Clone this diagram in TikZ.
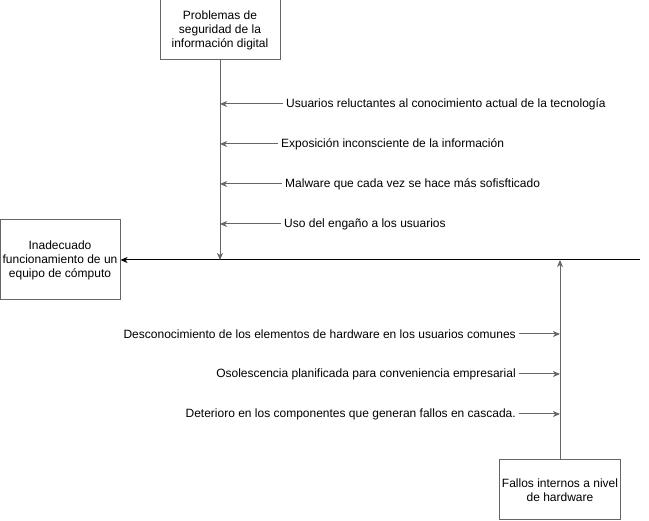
\documentclass[tikz,border=0pt]{standalone}
\usepackage{fontspec}
\setmainfont{Liberation Sans}
\usetikzlibrary{arrows.meta}
\definecolor{linegray}{HTML}{666666}
\tikzset{
	causebox/.style={rectangle, draw=linegray, line width=1pt, minimum width=120pt, align=center, inner sep=2pt, font=\fontsize{12}{14}\selectfont},
	causetext/.style={inner sep=3pt, font=\fontsize{12}{14}\selectfont},
	branch/.style={-{Stealth[length=7pt, width=6pt, inset=2pt]}, draw=linegray, line width=1pt}
}
\begin{document}
\begin{tikzpicture}[x=1pt, y=-1pt]
	\useasboundingbox (0,0) rectangle (649,521);

	\node (secbox) [causebox, minimum height=60pt] at (220, 30) {Problemas de\\seguridad de la\\información digital};
	\node (effect) [causebox, minimum height=80pt] at (60, 260) {Inadecuado\\funcionamiento de un\\equipo de cómputo};
	\node (hwbox) [causebox, minimum height=60pt] at (560, 490) {Fallos internos a nivel\\de hardware};

	\coordinate (spineend) at (640, 260);
	\coordinate (secjoin) at (220, 260);
	\coordinate (hwjoin) at (560, 260);

	\node (s1) [causetext, anchor=west] at (283, 104) {Usuarios reluctantes al conocimiento actual de la tecnología};
	\node (s2) [causetext, anchor=west] at (278, 144) {Exposición inconsciente de la información};
	\node (s3) [causetext, anchor=west] at (282, 184) {Malware que cada vez se hace más sofisfticado};
	\node (s4) [causetext, anchor=west] at (281, 224) {Uso del engaño a los usuarios};

	\node (h1) [causetext, anchor=east] at (519, 334) {Desconocimiento de los elementos de hardware en los usuarios comunes};
	\node (h2) [causetext, anchor=east] at (519, 374) {Osolescencia planificada para conveniencia empresarial};
	\node (h3) [causetext, anchor=east] at (519, 414) {Deterioro en los componentes que generan fallos en cascada.};

	\path
	(spineend) edge[-{Stealth[length=7pt, width=6pt, inset=2pt]}, line width=1pt] (effect)
	(secbox) edge[branch] (secjoin)
	(hwbox) edge[branch] (hwjoin)
	(s1.west) edge[branch] (220, 104)
	(s2.west) edge[branch] (220, 144)
	(s3.west) edge[branch] (220, 184)
	(s4.west) edge[branch] (220, 224)
	(h1.east) edge[branch] (560, 334)
	(h2.east) edge[branch] (560, 374)
	(h3.east) edge[branch] (560, 414);

\end{tikzpicture}
\end{document}
